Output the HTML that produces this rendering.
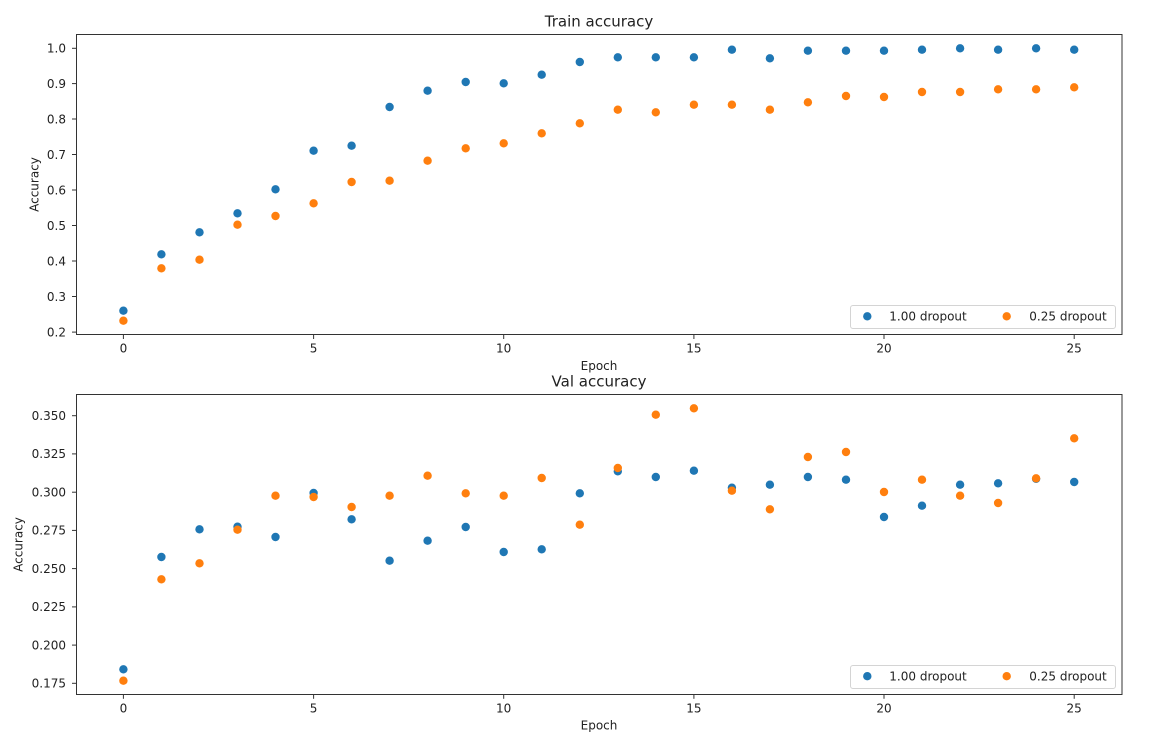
<!DOCTYPE html>
<html>
<head>
<meta charset="utf-8">
<style>
html,body{margin:0;padding:0;background:#fff;}
svg{display:block;}
text{font-family:"DejaVu Sans","Liberation Sans",sans-serif;fill:#222;}
.tk{font-size:12px;}
.ttl{font-size:15px;}
.lbl{font-size:12px;}
.b{fill:#1f77b4;}
.o{fill:#ff7f0e;}
</style>
</head>
<body>
<svg width="1151" height="745" viewBox="0 0 1151 745" xmlns="http://www.w3.org/2000/svg">
<rect x="0" y="0" width="1151" height="745" fill="#fff"/>

<!-- ================= TOP PLOT ================= -->
<text class="ttl" x="599" y="26.5" text-anchor="middle">Train accuracy</text>

<!-- y ticks -->
<g stroke="#333" stroke-width="1">
<line x1="72" y1="48.3" x2="76.5" y2="48.3"/>
<line x1="72" y1="83.6" x2="76.5" y2="83.6"/>
<line x1="72" y1="119" x2="76.5" y2="119"/>
<line x1="72" y1="154.5" x2="76.5" y2="154.5"/>
<line x1="72" y1="190" x2="76.5" y2="190"/>
<line x1="72" y1="225.5" x2="76.5" y2="225.5"/>
<line x1="72" y1="261" x2="76.5" y2="261"/>
<line x1="72" y1="296.5" x2="76.5" y2="296.5"/>
<line x1="72" y1="332.1" x2="76.5" y2="332.1"/>
</g>
<g class="tk" text-anchor="end">
<text class="tk" x="66" y="52.6">1.0</text>
<text class="tk" x="66" y="87.9">0.9</text>
<text class="tk" x="66" y="123.3">0.8</text>
<text class="tk" x="66" y="158.8">0.7</text>
<text class="tk" x="66" y="194.3">0.6</text>
<text class="tk" x="66" y="229.8">0.5</text>
<text class="tk" x="66" y="265.3">0.4</text>
<text class="tk" x="66" y="300.8">0.3</text>
<text class="tk" x="66" y="336.4">0.2</text>
</g>
<!-- x ticks -->
<g stroke="#333" stroke-width="1">
<line x1="123.4" y1="334.5" x2="123.4" y2="339"/>
<line x1="313.6" y1="334.5" x2="313.6" y2="339"/>
<line x1="503.7" y1="334.5" x2="503.7" y2="339"/>
<line x1="693.9" y1="334.5" x2="693.9" y2="339"/>
<line x1="884.0" y1="334.5" x2="884.0" y2="339"/>
<line x1="1074.2" y1="334.5" x2="1074.2" y2="339"/>
</g>
<g text-anchor="middle">
<text class="tk" x="123.4" y="352.7">0</text>
<text class="tk" x="313.6" y="352.7">5</text>
<text class="tk" x="503.7" y="352.7">10</text>
<text class="tk" x="693.9" y="352.7">15</text>
<text class="tk" x="884.0" y="352.7">20</text>
<text class="tk" x="1074.2" y="352.7">25</text>
</g>
<text class="lbl" x="599" y="369.8" text-anchor="middle">Epoch</text>
<text class="lbl" transform="translate(38.5,184.5) rotate(-90)" text-anchor="middle">Accuracy</text>

<!-- top data: blue -->
<g class="b">
<circle cx="123.4" cy="310.7" r="4.2"/>
<circle cx="161.4" cy="254.3" r="4.2"/>
<circle cx="199.5" cy="232.3" r="4.2"/>
<circle cx="237.5" cy="213.3" r="4.2"/>
<circle cx="275.5" cy="189.3" r="4.2"/>
<circle cx="313.6" cy="150.7" r="4.2"/>
<circle cx="351.6" cy="145.7" r="4.2"/>
<circle cx="389.6" cy="107" r="4.2"/>
<circle cx="427.6" cy="90.7" r="4.2"/>
<circle cx="465.7" cy="82" r="4.2"/>
<circle cx="503.7" cy="83.3" r="4.2"/>
<circle cx="541.7" cy="74.7" r="4.2"/>
<circle cx="579.8" cy="62" r="4.2"/>
<circle cx="617.8" cy="57.3" r="4.2"/>
<circle cx="655.8" cy="57.3" r="4.2"/>
<circle cx="693.9" cy="57.3" r="4.2"/>
<circle cx="731.9" cy="49.7" r="4.2"/>
<circle cx="769.9" cy="58.3" r="4.2"/>
<circle cx="807.9" cy="50.7" r="4.2"/>
<circle cx="846.0" cy="50.7" r="4.2"/>
<circle cx="884.0" cy="50.7" r="4.2"/>
<circle cx="922.0" cy="49.7" r="4.2"/>
<circle cx="960.1" cy="48.3" r="4.2"/>
<circle cx="998.1" cy="49.7" r="4.2"/>
<circle cx="1036.1" cy="48.3" r="4.2"/>
<circle cx="1074.2" cy="49.7" r="4.2"/>
</g>
<!-- top data: orange -->
<g class="o">
<circle cx="123.4" cy="320.7" r="4.2"/>
<circle cx="161.4" cy="268.3" r="4.2"/>
<circle cx="199.5" cy="259.7" r="4.2"/>
<circle cx="237.5" cy="224.7" r="4.2"/>
<circle cx="275.5" cy="216" r="4.2"/>
<circle cx="313.6" cy="203.3" r="4.2"/>
<circle cx="351.6" cy="182" r="4.2"/>
<circle cx="389.6" cy="180.7" r="4.2"/>
<circle cx="427.6" cy="160.7" r="4.2"/>
<circle cx="465.7" cy="148.3" r="4.2"/>
<circle cx="503.7" cy="143.3" r="4.2"/>
<circle cx="541.7" cy="133.3" r="4.2"/>
<circle cx="579.8" cy="123.3" r="4.2"/>
<circle cx="617.8" cy="109.7" r="4.2"/>
<circle cx="655.8" cy="112.3" r="4.2"/>
<circle cx="693.9" cy="104.7" r="4.2"/>
<circle cx="731.9" cy="104.7" r="4.2"/>
<circle cx="769.9" cy="109.7" r="4.2"/>
<circle cx="807.9" cy="102.3" r="4.2"/>
<circle cx="846.0" cy="96" r="4.2"/>
<circle cx="884.0" cy="97" r="4.2"/>
<circle cx="922.0" cy="92" r="4.2"/>
<circle cx="960.1" cy="92" r="4.2"/>
<circle cx="998.1" cy="89.3" r="4.2"/>
<circle cx="1036.1" cy="89.3" r="4.2"/>
<circle cx="1074.2" cy="87.3" r="4.2"/>
</g>

<!-- top legend -->
<rect x="850.5" y="305.5" width="265" height="23" rx="2.5" ry="2.5" fill="#fff" fill-opacity="0.8" stroke="#d4d4d4" stroke-width="1"/>
<circle class="b" cx="867.3" cy="316.3" r="4.2"/>
<text class="lbl" x="889.3" y="320.6">1.00 dropout</text>
<circle class="o" cx="1006.7" cy="316.3" r="4.2"/>
<text class="lbl" x="1029.3" y="320.6">0.25 dropout</text>

<!-- top axes frame -->
<rect x="76.5" y="34.5" width="1045.5" height="300" fill="none" stroke="#333" stroke-width="1"/>

<!-- ================= BOTTOM PLOT ================= -->
<text class="ttl" x="599" y="386.6" text-anchor="middle">Val accuracy</text>

<g stroke="#333" stroke-width="1">
<line x1="72" y1="415.7" x2="76.5" y2="415.7"/>
<line x1="72" y1="453.9" x2="76.5" y2="453.9"/>
<line x1="72" y1="492.2" x2="76.5" y2="492.2"/>
<line x1="72" y1="530.4" x2="76.5" y2="530.4"/>
<line x1="72" y1="568.6" x2="76.5" y2="568.6"/>
<line x1="72" y1="606.9" x2="76.5" y2="606.9"/>
<line x1="72" y1="645.1" x2="76.5" y2="645.1"/>
<line x1="72" y1="683.3" x2="76.5" y2="683.3"/>
</g>
<g text-anchor="end">
<text class="tk" x="66" y="420">0.350</text>
<text class="tk" x="66" y="458.2">0.325</text>
<text class="tk" x="66" y="496.5">0.300</text>
<text class="tk" x="66" y="534.7">0.275</text>
<text class="tk" x="66" y="572.9">0.250</text>
<text class="tk" x="66" y="611.2">0.225</text>
<text class="tk" x="66" y="649.4">0.200</text>
<text class="tk" x="66" y="687.6">0.175</text>
</g>
<g stroke="#333" stroke-width="1">
<line x1="123.4" y1="694.3" x2="123.4" y2="698.8"/>
<line x1="313.6" y1="694.3" x2="313.6" y2="698.8"/>
<line x1="503.7" y1="694.3" x2="503.7" y2="698.8"/>
<line x1="693.9" y1="694.3" x2="693.9" y2="698.8"/>
<line x1="884.0" y1="694.3" x2="884.0" y2="698.8"/>
<line x1="1074.2" y1="694.3" x2="1074.2" y2="698.8"/>
</g>
<g text-anchor="middle">
<text class="tk" x="123.4" y="712.5">0</text>
<text class="tk" x="313.6" y="712.5">5</text>
<text class="tk" x="503.7" y="712.5">10</text>
<text class="tk" x="693.9" y="712.5">15</text>
<text class="tk" x="884.0" y="712.5">20</text>
<text class="tk" x="1074.2" y="712.5">25</text>
</g>
<text class="lbl" x="599" y="729.6" text-anchor="middle">Epoch</text>
<text class="lbl" transform="translate(22.5,544.5) rotate(-90)" text-anchor="middle">Accuracy</text>

<!-- bottom data: blue -->
<g class="b">
<circle cx="123.4" cy="669.3" r="4.2"/>
<circle cx="161.4" cy="557" r="4.2"/>
<circle cx="199.5" cy="529.3" r="4.2"/>
<circle cx="237.5" cy="526.7" r="4.2"/>
<circle cx="275.5" cy="537" r="4.2"/>
<circle cx="313.6" cy="493" r="4.2"/>
<circle cx="351.6" cy="519.3" r="4.2"/>
<circle cx="389.6" cy="560.7" r="4.2"/>
<circle cx="427.6" cy="540.7" r="4.2"/>
<circle cx="465.7" cy="527" r="4.2"/>
<circle cx="503.7" cy="552" r="4.2"/>
<circle cx="541.7" cy="549.3" r="4.2"/>
<circle cx="579.8" cy="493.3" r="4.2"/>
<circle cx="617.8" cy="471.3" r="4.2"/>
<circle cx="655.8" cy="477" r="4.2"/>
<circle cx="693.9" cy="470.7" r="4.2"/>
<circle cx="731.9" cy="487.7" r="4.2"/>
<circle cx="769.9" cy="484.7" r="4.2"/>
<circle cx="807.9" cy="477" r="4.2"/>
<circle cx="846.0" cy="479.7" r="4.2"/>
<circle cx="884.0" cy="517" r="4.2"/>
<circle cx="922.0" cy="505.7" r="4.2"/>
<circle cx="960.1" cy="484.7" r="4.2"/>
<circle cx="998.1" cy="483.3" r="4.2"/>
<circle cx="1036.1" cy="478.8" r="4.2"/>
<circle cx="1074.2" cy="482" r="4.2"/>
</g>
<!-- bottom data: orange -->
<g class="o">
<circle cx="123.4" cy="680.7" r="4.2"/>
<circle cx="161.4" cy="579.3" r="4.2"/>
<circle cx="199.5" cy="563.3" r="4.2"/>
<circle cx="237.5" cy="529.7" r="4.2"/>
<circle cx="275.5" cy="495.7" r="4.2"/>
<circle cx="313.6" cy="497" r="4.2"/>
<circle cx="351.6" cy="507" r="4.2"/>
<circle cx="389.6" cy="495.7" r="4.2"/>
<circle cx="427.6" cy="475.7" r="4.2"/>
<circle cx="465.7" cy="493.3" r="4.2"/>
<circle cx="503.7" cy="495.7" r="4.2"/>
<circle cx="541.7" cy="478" r="4.2"/>
<circle cx="579.8" cy="524.7" r="4.2"/>
<circle cx="617.8" cy="468" r="4.2"/>
<circle cx="655.8" cy="414.7" r="4.2"/>
<circle cx="693.9" cy="408.3" r="4.2"/>
<circle cx="731.9" cy="490.7" r="4.2"/>
<circle cx="769.9" cy="509.3" r="4.2"/>
<circle cx="807.9" cy="457" r="4.2"/>
<circle cx="846.0" cy="452" r="4.2"/>
<circle cx="884.0" cy="492" r="4.2"/>
<circle cx="922.0" cy="479.7" r="4.2"/>
<circle cx="960.1" cy="495.7" r="4.2"/>
<circle cx="998.1" cy="503" r="4.2"/>
<circle cx="1036.1" cy="478.3" r="4.2"/>
<circle cx="1074.2" cy="438.3" r="4.2"/>
</g>

<!-- bottom legend -->
<rect x="850.5" y="665.5" width="265" height="23" rx="2.5" ry="2.5" fill="#fff" fill-opacity="0.8" stroke="#d4d4d4" stroke-width="1"/>
<circle class="b" cx="867.3" cy="676.2" r="4.2"/>
<text class="lbl" x="889.3" y="680.5">1.00 dropout</text>
<circle class="o" cx="1006.7" cy="676.2" r="4.2"/>
<text class="lbl" x="1029.3" y="680.5">0.25 dropout</text>

<!-- bottom axes frame -->
<rect x="76.5" y="394.5" width="1045.5" height="300" fill="none" stroke="#333" stroke-width="1"/>
</svg>
</body>
</html>
